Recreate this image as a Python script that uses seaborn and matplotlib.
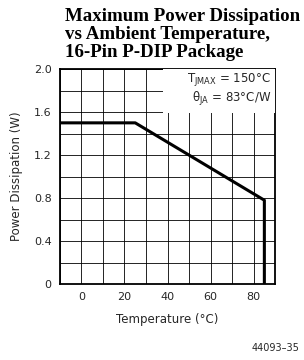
import numpy as np
import pandas as pd
import matplotlib
matplotlib.use("Agg")
import matplotlib.pyplot as plt
import seaborn as sns

# derating curve, 16-pin P-DIP
temps = [-10, 25, 85, 85]
power = [1.5, 1.5, 0.78, 0.0]
x_ticks = [0, 20, 40, 60, 80]
y_ticks = [0, 0.4, 0.8, 1.2, 1.6, 2.0]
y_tick_labels = ["0", "0.4", "0.8", "1.2", "1.6", "2.0"]
title_lines = ["Maximum Power Dissipation", "vs Ambient Temperature,", "16-Pin P-DIP Package"]

sns.set_style("white")
plt.rcParams['font.family'] = ['DejaVu Sans']

df = pd.DataFrame({"Temperature": temps, "Power": power})

fig = plt.figure(figsize=(3.04, 3.6), dpi=100)
ax = fig.add_axes([0.197, 0.211, 0.708, 0.597])

# estimator=None so the two points at 85 C are not averaged
sns.lineplot(data=df, x="Temperature", y="Power", sort=False, estimator=None,
             color="black", linewidth=2.2, ax=ax, zorder=5)

ax.set_xlim(-10, 90)
ax.set_ylim(0, 2.0)
ax.set_xticks(x_ticks)
ax.set_xticks(np.arange(-10, 91, 10), minor=True)
ax.set_yticks(y_ticks)
ax.set_yticklabels(y_tick_labels)
ax.set_yticks(np.arange(0, 2.01, 0.2), minor=True)
ax.grid(True, which="both", color="black", linewidth=0.6)
ax.tick_params(which="both", length=0, labelsize=8, pad=6)
for s in ax.spines.values():
    s.set_color("black")
    s.set_linewidth(1.3)

ax.set_xlabel("Temperature (°C)", fontsize=8.5, labelpad=8)
ax.set_ylabel("Power Dissipation (W)", fontsize=8.5, labelpad=8)

# parameter box
ax.add_patch(plt.Rectangle((38, 1.59), 52, 0.41, facecolor="white",
                           edgecolor="none", zorder=3))
ax.text(88, 1.90, r"T$_{\mathregular{JMAX}}$ = 150°C", ha="right", va="center",
        fontsize=8.5, zorder=4)
ax.text(88, 1.72, r"θ$_{\mathregular{JA}}$ = 83°C/W", ha="right", va="center",
        fontsize=8.5, zorder=4)

fig.text(0.214, 0.977, "\n".join(title_lines), ha="left", va="top",
         fontsize=13.6, fontweight="bold", family="Liberation Serif", linespacing=1.06,
         color="black")
fig.text(0.985, 0.02, "44093–35", ha="right", va="bottom", fontsize=7)

fig.savefig("out.png", dpi=100)
